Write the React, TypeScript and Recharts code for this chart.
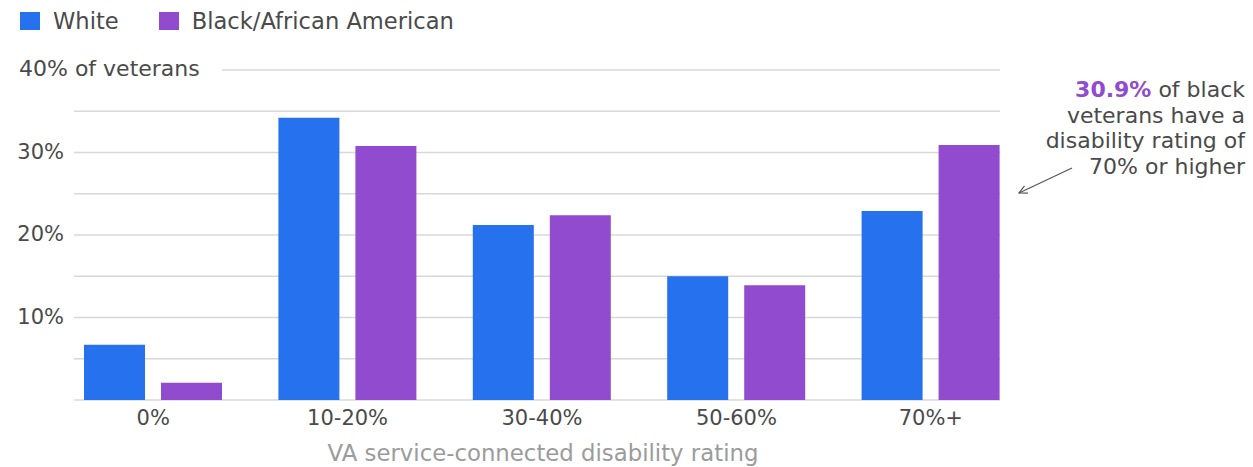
import { Bar, BarChart, CartesianGrid, XAxis, YAxis } from "recharts";

const categories = ["0%", "10-20%", "30-40%", "50-60%", "70%+"];
const whiteShare = [6.7, 34.2, 21.2, 15.0, 22.9];
const blackShare = [2.1, 30.8, 22.4, 13.9, 30.9];
const yTicks = [0, 5, 10, 15, 20, 25, 30, 35, 40];
const labeledTicks = [10, 20, 30];

const WHITE_COLOR = "#2671ed";
const BLACK_COLOR = "#914bce";
const TEXT = "#4a4a4a";
const FONT = "'DejaVu Sans', sans-serif";

const data = categories.map((rating, i) => ({
  rating,
  white: whiteShare[i],
  black: blackShare[i],
}));

function YTick(props: any) {
  const { y, payload } = props;
  const v = payload.value;
  if (v === 40) {
    return (
      <g>
        <rect x={70} y={y - 8} width={152} height={16} fill="#fff" />
        <text x={19} y={y} dy={6} fontSize={22} fill={TEXT} fontFamily={FONT}>
          40% of veterans
        </text>
      </g>
    );
  }
  if (!labeledTicks.includes(v)) return null;
  return (
    <text x={64} y={y} dy={6} textAnchor="end" fontSize={21} fill={TEXT} fontFamily={FONT}>
      {v}%
    </text>
  );
}

function LegendKey({ color, label }: { color: string; label: string }) {
  return (
    <span style={{ display: "inline-flex", alignItems: "center", marginRight: 40 }}>
      <span style={{ width: 20, height: 18, background: color, marginRight: 13 }} />
      <span>{label}</span>
    </span>
  );
}

export default function App() {
  return (
    <div
      style={{
        position: "absolute",
        left: 0,
        top: 0,
        width: 1253,
        height: 467,
        background: "#fff",
        fontFamily: FONT,
      }}
    >
      <div
        style={{
          position: "absolute",
          left: 20,
          top: 7,
          fontSize: 22.6,
          color: TEXT,
          display: "flex",
          lineHeight: "28px",
        }}
      >
        <LegendKey color={WHITE_COLOR} label="White" />
        <LegendKey color={BLACK_COLOR} label="Black/African American" />
      </div>

      <BarChart
        width={1253}
        height={467}
        data={data}
        margin={{ top: 70, right: 253, bottom: 0, left: 0 }}
        barGap={16}
      >
        <CartesianGrid vertical={false} stroke="#d8d8d8" strokeWidth={1.5} />
        <XAxis
          dataKey="rating"
          axisLine={false}
          tickLine={false}
          interval={0}
          height={67}
          tickMargin={4}
          padding={{ left: -18, right: -28 }}
          tick={{ fontSize: 21, fill: TEXT, fontFamily: FONT }}
          label={{
            value: "VA service-connected disability rating",
            position: "insideBottom",
            offset: 6,
            dx: 6,
            fill: "#9b9b9b",
            fontSize: 22.8,
            fontFamily: FONT,
          }}
        />
        <YAxis
          width={74}
          domain={[0, 40]}
          ticks={yTicks}
          interval={0}
          axisLine={false}
          tickLine={false}
          tick={<YTick />}
        />
        <Bar dataKey="white" name="White" fill={WHITE_COLOR} barSize={61} isAnimationActive={false} />
        <Bar dataKey="black" name="Black/African American" fill={BLACK_COLOR} barSize={61} isAnimationActive={false} />
      </BarChart>

      <svg
        width={1253}
        height={467}
        style={{ position: "absolute", left: 0, top: 0, pointerEvents: "none" }}
      >
        <defs>
          <marker id="arrowhead" markerWidth="10" markerHeight="10" refX="1" refY="5" orient="auto" markerUnits="userSpaceOnUse">
            <path d="M9,1 L1,5 L9,9" fill="none" stroke="#555" strokeWidth={1.2} />
          </marker>
        </defs>
        <text textAnchor="end" fontSize={22} fill={TEXT} fontFamily={FONT}>
          <tspan x={1245} y={97}>
            <tspan fill={BLACK_COLOR} fontWeight="bold">30.9%</tspan> of black
          </tspan>
          <tspan x={1245} y={122.5}>veterans have a</tspan>
          <tspan x={1245} y={148}>disability rating of</tspan>
          <tspan x={1245} y={173.5}>70% or higher</tspan>
        </text>
        <line x1={1019} y1={193} x2={1072} y2={168} stroke="#555" strokeWidth={1.2} markerStart="url(#arrowhead)" />
      </svg>
    </div>
  );
}
